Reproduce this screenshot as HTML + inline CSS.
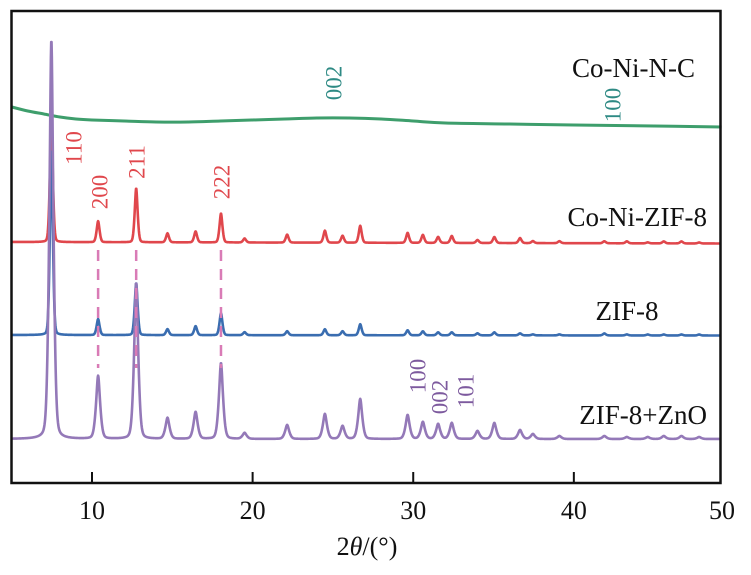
<!DOCTYPE html>
<html><head><meta charset="utf-8"><style>
html,body{margin:0;padding:0;background:#fff;}
svg, svg text{font-family:"Liberation Serif","Times New Roman",serif;}
</style></head><body>
<svg id="chart" width="751" height="570" viewBox="0 0 751 570" font-family="Liberation Serif, serif">
<g id="series"></g>
<g id="annot"></g>
<rect x="11.5" y="11" width="709" height="472" fill="none" stroke="#111" stroke-width="2.5"/>
<g id="axis" font-size="26" fill="#111"></g>
<text x="367" y="555" font-size="26" text-anchor="middle" fill="#111">2<tspan font-style="italic">θ</tspan>/(°)</text>
</svg>
<script>
const peakPos=[7.47,10.38,12.75,14.7,16.45,18.03,19.5,22.15,24.5,25.6,26.7,29.65,30.6,31.55,32.4,34.0,35.05,36.65,37.45,39.1,41.9,43.3,44.6,45.6,46.7,47.8];
const redHeights=[120,21,54,9,11,29,4,8,12,7,17,10,8,6,7,3,6,5,2,2,2,2,1,2,2,1];
const blueHeights=[185,16,52,6,9,22,3,4,6,4,11,5,4,3,3,2,3,2,1,1,2,1,1,1,1,1];
const purpleHeights=[399,63,156,21,27,76,6,14,25,13,40,24,17,15,16,8,16,9,5,3,3,2,2,3,3,2];
const greenX=[5,6,7,8,9,10,12,14,16,18,20,22,24,26,28,30,32,36,40,45,49.2];
const greenY=[23,19,16,13,11,10,9,8,8,9,10,11,12,12,11,9,7,6,5,4,3];
const xTicks=[10,20,30,40];
const NS='http://www.w3.org/2000/svg';
const X0=5,X1=49.1,PX0=11.7,PX1=720;
function xs(v){return PX0+(v-X0)*(PX1-PX0)/(X1-X0);}
function ys(base,v){return base-v;}
const seriesG=document.getElementById('series');
function pv(x,c,h,w,f){const d=(x-c)/w;return h*((1-f)*Math.exp(-d*d/2)+f/(1+d*d*2));}
function drawPeaks(heights,base,w,f,color,name,drift){
  let d='';
  for(let v=X0;v<=X1;v+=0.02){
    let s=0;for(let i=0;i<peakPos.length;i++)s+=pv(v,peakPos[i],heights[i],w,f);
    s-=drift*(v-X0)/(X1-X0);
    d+=(d?'L':'M')+xs(v).toFixed(2)+' '+ys(base,s).toFixed(2);
  }
  const p=document.createElementNS(NS,'path');
  p.setAttribute('d',d);p.setAttribute('fill','none');p.setAttribute('stroke',color);p.setAttribute('stroke-width','2.6');p.setAttribute('stroke-linejoin','round');
  
  
  seriesG.appendChild(p);
}
(function(){
  const pts=greenX.map((g,i)=>[xs(g),ys(130,greenY[i])]);
  let d='M'+pts[0][0]+' '+pts[0][1];
  for(let i=0;i<pts.length-1;i++){
    const p0=pts[i-1]||pts[i],p1=pts[i],p2=pts[i+1],p3=pts[i+2]||p2;
    const c1=[p1[0]+(p2[0]-p0[0])/6,p1[1]+(p2[1]-p0[1])/6];
    const c2=[p2[0]-(p3[0]-p1[0])/6,p2[1]-(p3[1]-p1[1])/6];
    d+='C'+c1[0].toFixed(2)+' '+c1[1].toFixed(2)+' '+c2[0].toFixed(2)+' '+c2[1].toFixed(2)+' '+p2[0].toFixed(2)+' '+p2[1].toFixed(2);
  }
  const p=document.createElementNS(NS,'path');p.setAttribute('d',d);p.setAttribute('fill','none');p.setAttribute('stroke','#3e9e6c');p.setAttribute('stroke-width','3');
  
  
  seriesG.appendChild(p);
})();
drawPeaks(redHeights,242,0.1,0.3,'#e0474c','co-ni-zif-8-series',1.5);
drawPeaks(blueHeights,335,0.1,0.3,'#3a6db0','zif-8-series',0.5);
drawPeaks(purpleHeights,439,0.15,0.45,'#9479b8','zif-8-zno-series',0);
const ax=document.getElementById('axis');
xTicks.forEach(t=>{
  const l=document.createElementNS(NS,'line');l.setAttribute('x1',xs(t));l.setAttribute('x2',xs(t));l.setAttribute('y1',483);l.setAttribute('y2',472);l.setAttribute('stroke','#111');l.setAttribute('stroke-width','2');
  
  
  ax.appendChild(l);
  const tx=document.createElementNS(NS,'text');tx.setAttribute('x',xs(t));tx.setAttribute('y',519);tx.setAttribute('text-anchor','middle');tx.textContent=t;
  
  
  ax.appendChild(tx);
});
const t50=document.createElementNS(NS,'text');t50.setAttribute('x',722);t50.setAttribute('y',519);t50.setAttribute('text-anchor','middle');t50.textContent='50';


ax.appendChild(t50);
const an=document.getElementById('annot');
function dash(v){const l=document.createElementNS(NS,'line');l.setAttribute('x1',xs(v));l.setAttribute('x2',xs(v));l.setAttribute('y1',250);l.setAttribute('y2',368);l.setAttribute('stroke','#d97bb6');l.setAttribute('stroke-width','2.5');l.setAttribute('stroke-dasharray','11 8');


an.appendChild(l);}
[10.38,12.75,18.03].forEach(dash);
function rlab(txt,x,y,color,size){const t=document.createElementNS(NS,'text');t.setAttribute('transform','translate('+x+','+y+') rotate(-90)');t.setAttribute('text-anchor','middle');t.setAttribute('dominant-baseline','central');t.setAttribute('fill',color);t.setAttribute('font-size',size);t.textContent=txt;


an.appendChild(t);}
rlab('110',74,148,'#e0474c',23);rlab('200',100,192,'#e0474c',23);rlab('211',137,162,'#e0474c',23);rlab('222',222,182,'#e0474c',23);
rlab('002',334,83,'#2e8a84',23);rlab('100',613,105,'#2e8a84',23);
rlab('100',418,376,'#7d5a9e',23);rlab('002',440,397,'#7d5a9e',23);rlab('101',466,391,'#7d5a9e',23);
function lab(txt,x,y,anchor){const t=document.createElementNS(NS,'text');t.setAttribute('x',x);t.setAttribute('y',y);t.setAttribute('text-anchor',anchor);t.setAttribute('font-size','27');t.setAttribute('fill','#111');t.textContent=txt;


an.appendChild(t);}
lab('Co-Ni-N-C',695,77,'end');lab('Co-Ni-ZIF-8',707,226,'end');lab('ZIF-8',627,320,'middle');lab('ZIF-8+ZnO',707,424,'end');
</script>
</body></html>
